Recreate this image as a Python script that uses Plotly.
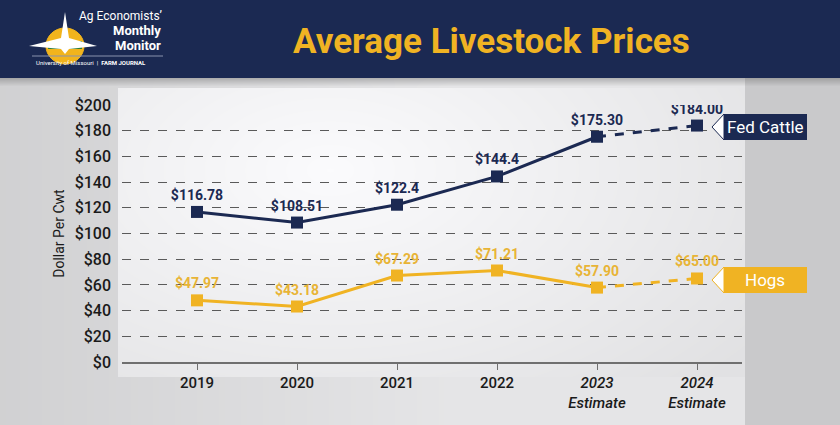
import base64, struct, zlib
import numpy as np
import plotly.graph_objects as go

years = ["2019", "2020", "2021", "2022", "2023", "2024"]
tick_text = ["2019", "2020", "2021", "2022", "<i>2023</i><br><i>Estimate</i>", "<i>2024</i><br><i>Estimate</i>"]
fed_cattle = [116.78, 108.51, 122.4, 144.4, 175.30, 184.00]
fed_labels = ["$116.78", "$108.51", "$122.4", "$144.4", "$175.30", "$184.00"]
hogs = [47.97, 43.18, 67.29, 71.21, 57.90, 65.00]
hog_labels = ["$47.97", "$43.18", "$67.29", "$71.21", "$57.90", "$65.00"]
y_ticks = list(range(0, 201, 20))
y_tick_text = ["$%d" % v for v in y_ticks]

NAVY = "#1b2952"
GOLD = "#f0b323"
FONT = "Roboto, sans-serif"

W, H = 840, 425
L, R, T, B = 122, 742, 105, 362


def px(x, y):
    return (x - L) / (R - L), (B - y) / (B - T)


# ---------- background gradient image ----------
xs = np.arange(W)[None, :].astype(float)
ys = np.arange(H)[:, None].astype(float)
val = np.broadcast_to(0.82 + 0.08 * np.clip(xs / 450, 0, 1) + 0.0 * ys, (H, W)).copy()
inside = (xs >= 118) & (xs <= 744) & (ys >= 88) & (ys <= 376)
d = np.sqrt(((xs - 330) / 520) ** 2 + ((ys - 170) / 300) ** 2)
plot_val = 0.985 - 0.10 * np.clip(d, 0, 1)
val = np.where(inside, plot_val, val)
val = np.where(xs > 744, 0.79 + 0.0 * ys, val)
img = np.stack([val * 255, val * 255, val * 257], axis=-1).clip(0, 255)
for i in range(8):
    a = 0.35 * (1 - i / 8)
    img[78 + i, :, :] = img[78 + i, :, :] * (1 - a) + 90 * a
img[:78, :, :] = np.array([27, 41, 82], float)
img = img.astype(np.uint8)


def png_bytes(arr):
    h, w, _ = arr.shape
    raw = b"".join(b"\x00" + arr[r].tobytes() for r in range(h))

    def chunk(t, data):
        c = struct.pack(">I", len(data)) + t + data
        return c + struct.pack(">I", zlib.crc32(t + data) & 0xffffffff)
    return (b"\x89PNG\r\n\x1a\n" + chunk(b"IHDR", struct.pack(">IIBBBBB", w, h, 8, 2, 0, 0, 0))
            + chunk(b"IDAT", zlib.compress(raw, 9)) + chunk(b"IEND", b""))


src = "data:image/png;base64," + base64.b64encode(png_bytes(img)).decode()
x0, y0 = px(0, 0)

fig = go.Figure()

fig.add_trace(go.Scatter(x=years[:5], y=fed_cattle[:5], mode="lines",
                         line=dict(color=NAVY, width=3), hoverinfo="skip"))
fig.add_trace(go.Scatter(x=years[4:], y=fed_cattle[4:], mode="lines",
                         line=dict(color=NAVY, width=3, dash="dash"), hoverinfo="skip"))
fig.add_trace(go.Scatter(x=years[:5], y=hogs[:5], mode="lines",
                         line=dict(color=GOLD, width=3), hoverinfo="skip"))
fig.add_trace(go.Scatter(x=years[4:], y=hogs[4:], mode="lines",
                         line=dict(color=GOLD, width=3, dash="dash"), hoverinfo="skip"))
fig.add_trace(go.Scatter(x=years, y=fed_cattle, mode="markers+text", text=fed_labels,
                         textposition="top center",
                         textfont=dict(family=FONT, size=14, color=NAVY, weight="bold"),
                         marker=dict(symbol="square", size=12, color=NAVY)))
fig.add_trace(go.Scatter(x=years, y=hogs, mode="markers+text", text=hog_labels,
                         textposition="top center",
                         textfont=dict(family=FONT, size=14, color="#e8b436", weight="bold"),
                         marker=dict(symbol="square", size=12, color=GOLD)))

shapes = []
annotations = []


def ann(text, x, y, size, color, family=FONT, xanchor="center", weight="normal"):
    xx, yy = px(x, y)
    annotations.append(dict(text=text, x=xx, y=yy, xref="paper", yref="paper", xanchor=xanchor,
                            yanchor="middle", showarrow=False,
                            font=dict(family=family, size=size, color=color, weight=weight)))


# series label tags
for yc, label, col in [(127, "Fed Cattle", NAVY), (280, "Hogs", GOLD)]:
    top, bot = yc - 13, yc + 13
    a = px(712, yc); b = px(724, top); c = px(807, top); d2 = px(807, bot); e = px(724, bot)
    shapes.append(dict(type="path", xref="paper", yref="paper",
                       path=f"M{b[0]},{b[1]} L{c[0]},{c[1]} L{d2[0]},{d2[1]} L{e[0]},{e[1]} Z",
                       fillcolor=col, line=dict(width=0)))
    shapes.append(dict(type="path", xref="paper", yref="paper",
                       path=f"M{a[0]},{a[1]} L{b[0]},{b[1]} L{e[0]},{e[1]} Z",
                       fillcolor="white", line=dict(color=col, width=1)))
    ann(label, 765, yc, 17, "white")

# header title
ann("Average Livestock Prices", 491, 41, 35, GOLD, weight="bold")

# logo (simplified)
pts = [(65, 12), (69, 38), (97, 46), (69, 49), (65, 54), (61, 49), (29, 46), (61, 38)]
pp = [px(*p) for p in pts]
p1 = px(46, 28); p2 = px(84, 64)
shapes.append(dict(type="circle", xref="paper", yref="paper", x0=p1[0], y0=p1[1], x1=p2[0], y1=p2[1],
                   fillcolor="#f2b41c", line=dict(color="#f2b41c", width=1)))
p1 = px(48, 41); p2 = px(82, 49)
shapes.append(dict(type="rect", xref="paper", yref="paper", x0=p1[0], y0=p1[1], x1=p2[0], y1=p2[1],
                   fillcolor="#2f7d3a", line=dict(width=0)))
shapes.append(dict(type="path", xref="paper", yref="paper",
                   path="M" + " L".join(f"{p[0]},{p[1]}" for p in pp) + " Z",
                   fillcolor="white", line=dict(width=0)))
p1 = px(32, 56); p2 = px(163, 56)
shapes.append(dict(type="line", xref="paper", yref="paper", x0=p1[0], y0=p1[1], x1=p2[0], y1=p2[1],
                   line=dict(color="#8a93ad", width=1)))
ann("Ag Economists’", 164, 16, 12, "white", xanchor="right")
ann("Monthly", 163, 31, 13, "white", xanchor="right", weight="bold")
ann("Monitor", 163, 46, 13, "white", xanchor="right", weight="bold")
ann("University of Missouri  |  <b>FARM JOURNAL</b>", 34, 63, 6, "white", xanchor="left")

fig.update_layout(
    width=W, height=H,
    margin=dict(l=L, r=W - R, t=T, b=H - B),
    paper_bgcolor="#d9d9db", plot_bgcolor="rgba(0,0,0,0)",
    showlegend=False,
    images=[dict(source=src, xref="paper", yref="paper", x=x0, y=y0, sizex=W / (R - L),
                 sizey=H / (B - T), xanchor="left", yanchor="top", sizing="stretch", layer="below")],
    shapes=shapes, annotations=annotations,
    xaxis=dict(type="category", range=[-0.75, 5.45], tickmode="array", tickvals=years, ticktext=tick_text,
               showgrid=False, zeroline=False, showline=True, linecolor="#6f6f6f", linewidth=2,
               ticks="outside", ticklen=6, tickcolor="#6f6f6f", tickwidth=1,
               tickfont=dict(family=FONT, size=15, color="#1a1a1a", weight=500)),
    yaxis=dict(range=[0, 200], tickmode="array", tickvals=y_ticks, ticktext=y_tick_text,
               showgrid=True, gridcolor="#5a5a5a", griddash="dash", gridwidth=1,
               zeroline=False, showline=False, ticks="", ticklabelstandoff=10,
               tickfont=dict(family=FONT, size=16, color="#1a1a1a", weight=500),
               title=dict(text="Dollar Per Cwt", standoff=6,
                          font=dict(family=FONT, size=14, color="#1a1a1a"))),
)

fig.write_html("out.html")
